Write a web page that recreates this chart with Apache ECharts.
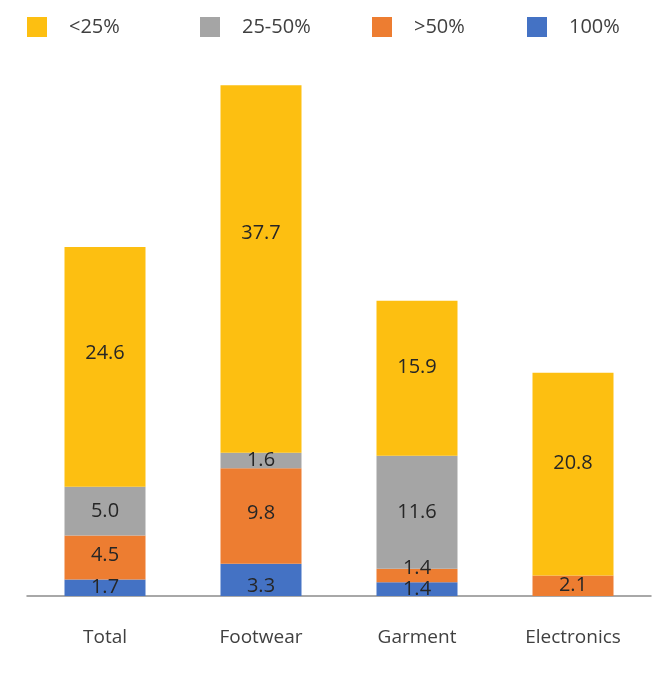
<!DOCTYPE html>
<html>
<head>
<meta charset="utf-8">
<script src="https://cdn.jsdelivr.net/npm/echarts@6/dist/echarts.min.js"></script>
<style>
html,body{margin:0;padding:0;background:#fff;}
#chart{width:668px;height:689px;}
</style>
</head>
<body>
<div id="chart"></div>
<script>
const categories = ['Total', 'Footwear', 'Garment', 'Electronics'];
const seriesNames = ['<25%', '25-50%', '>50%', '100%'];
const val100 = [1.7, 3.3, 1.4, null];
const valOver50 = [4.5, 9.8, 1.4, 2.1];
const val25to50 = [5.0, 1.6, 11.6, null];
const valUnder25 = [24.6, 37.7, 15.9, 20.8];

const colors = {'<25%': '#FDBF11', '25-50%': '#A5A5A5', '>50%': '#ED7D31', '100%': '#4472C4'};
const font = '"Open Sans", "Noto Sans", sans-serif';

// label offset tweaks (style only)
const labelOffsets = {
  '100%': {1: [0, 6]},
  '>50%': {0: [0, -2], 1: [0, -3], 2: [0, -7]},
  '<25%': {0: [0, -14], 1: [0, -36], 2: [0, -11], 3: [0, -11]}
};

function mkData(name, arr) {
  return arr.map((v, i) => {
    const item = {value: v == null ? '-' : v};
    const off = labelOffsets[name] && labelOffsets[name][i];
    if (off) item.label = {offset: off};
    return item;
  });
}

const stackOrder = [['100%', val100], ['>50%', valOver50], ['25-50%', val25to50], ['<25%', valUnder25]];

const series = stackOrder.map(([name, arr]) => ({
  name: name,
  type: 'bar',
  stack: 'all',
  barWidth: 81,
  itemStyle: {color: colors[name]},
  label: {
    show: true,
    position: 'inside',
    color: '#262626',
    fontSize: 20,
    fontFamily: font,
    formatter: p => Number(p.value).toFixed(1)
  },
  emphasis: {disabled: true},
  data: mkData(name, arr)
}));

const legendLefts = [27, 200, 372, 527];
const legend = seriesNames.map((n, i) => ({
  data: [n],
  left: legendLefts[i],
  top: 17,
  padding: 0,
  itemWidth: 20,
  itemHeight: 20,
  itemGap: 0,
  icon: 'rect',
  selectedMode: false,
  textStyle: {fontSize: 20, color: '#404040', fontFamily: font, padding: [0, 0, 0, 17]}
}));

const chart = echarts.init(document.getElementById('chart'), null, {renderer: 'canvas'});
chart.setOption({
  animation: false,
  backgroundColor: '#fff',
  legend: legend,
  grid: {left: 27, right: 17, top: 60, bottom: 93, containLabel: false},
  xAxis: {
    type: 'category',
    data: categories,
    axisLine: {show: true, lineStyle: {color: '#8c8c8c', width: 1.5}},
    axisTick: {show: false},
    axisLabel: {fontSize: 19, color: '#404040', fontFamily: font, margin: 32}
  },
  yAxis: {
    type: 'value',
    min: 0,
    max: 55,
    show: false,
    splitLine: {show: false}
  },
  series: series
});
</script>
</body>
</html>
